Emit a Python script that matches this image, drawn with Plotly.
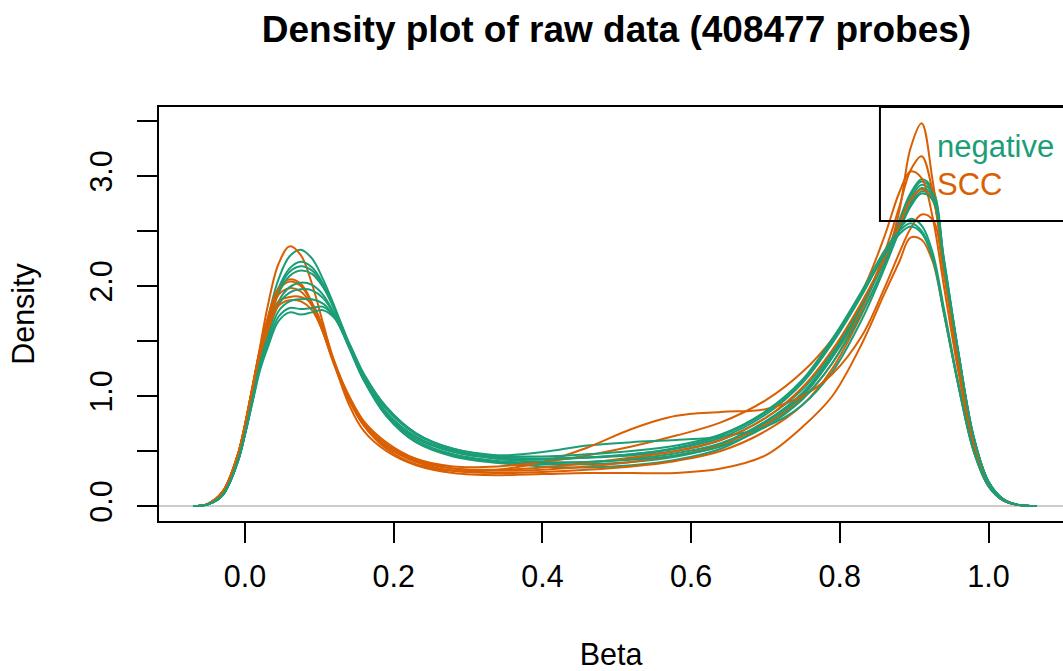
import plotly.graph_objects as go

beta_grid = [-0.07, -0.05, -0.03, -0.01, 0.0, 0.01, 0.02, 0.03, 0.045, 0.06, 0.075, 0.09, 0.105,
             0.12, 0.14, 0.16, 0.19, 0.23, 0.28, 0.34, 0.40, 0.46, 0.52, 0.58, 0.64, 0.70, 0.75,
             0.79, 0.83, 0.86, 0.88, 0.895, 0.91, 0.925, 0.94, 0.96, 0.98, 1.00, 1.02, 1.04, 1.065]

neg_1 = [0.0, 0.015, 0.10, 0.40, 0.66, 0.98, 1.33, 1.68, 2.06, 2.27, 2.33, 2.25, 2.06, 1.82, 1.47, 1.15, 0.82, 0.58, 0.45, 0.39, 0.36, 0.35, 0.37, 0.42, 0.52, 0.74, 1.00, 1.35, 1.80, 2.25, 2.60, 2.84, 2.97, 2.88, 2.25, 1.38, 0.63, 0.22, 0.06, 0.01, 0.0]
neg_2 = [0.0, 0.015, 0.10, 0.40, 0.66, 0.98, 1.32, 1.64, 1.98, 2.16, 2.22, 2.17, 2.02, 1.80, 1.46, 1.14, 0.82, 0.58, 0.46, 0.40, 0.38, 0.38, 0.40, 0.45, 0.55, 0.76, 1.02, 1.36, 1.82, 2.25, 2.58, 2.82, 2.95, 2.86, 2.24, 1.37, 0.62, 0.22, 0.06, 0.01, 0.0]
neg_3 = [0.0, 0.015, 0.10, 0.40, 0.66, 0.98, 1.32, 1.62, 1.96, 2.13, 2.18, 2.14, 2.00, 1.80, 1.48, 1.17, 0.85, 0.62, 0.49, 0.43, 0.42, 0.44, 0.47, 0.52, 0.62, 0.83, 1.12, 1.48, 1.92, 2.30, 2.52, 2.61, 2.55, 2.30, 1.80, 1.10, 0.52, 0.19, 0.05, 0.01, 0.0]
neg_4 = [0.0, 0.015, 0.10, 0.40, 0.66, 0.98, 1.31, 1.60, 1.93, 2.09, 2.14, 2.11, 1.99, 1.79, 1.46, 1.15, 0.83, 0.60, 0.47, 0.41, 0.39, 0.40, 0.43, 0.48, 0.57, 0.77, 1.03, 1.38, 1.83, 2.24, 2.56, 2.79, 2.92, 2.84, 2.22, 1.36, 0.62, 0.22, 0.06, 0.01, 0.0]
neg_5 = [0.0, 0.015, 0.10, 0.40, 0.66, 0.97, 1.30, 1.56, 1.86, 1.99, 2.03, 2.01, 1.92, 1.75, 1.44, 1.14, 0.84, 0.62, 0.50, 0.46, 0.49, 0.55, 0.58, 0.60, 0.63, 0.72, 0.92, 1.22, 1.70, 2.16, 2.50, 2.75, 2.89, 2.82, 2.22, 1.37, 0.63, 0.22, 0.06, 0.01, 0.0]
neg_6 = [0.0, 0.015, 0.10, 0.40, 0.66, 0.97, 1.29, 1.54, 1.83, 1.94, 1.97, 1.96, 1.89, 1.74, 1.44, 1.15, 0.85, 0.63, 0.50, 0.44, 0.43, 0.44, 0.46, 0.50, 0.60, 0.80, 1.06, 1.40, 1.84, 2.22, 2.52, 2.73, 2.86, 2.80, 2.20, 1.36, 0.62, 0.22, 0.06, 0.01, 0.0]
neg_7 = [0.0, 0.015, 0.10, 0.40, 0.66, 0.96, 1.27, 1.50, 1.77, 1.86, 1.88, 1.88, 1.84, 1.72, 1.45, 1.17, 0.88, 0.65, 0.52, 0.46, 0.45, 0.47, 0.50, 0.55, 0.65, 0.86, 1.15, 1.52, 1.96, 2.32, 2.50, 2.57, 2.50, 2.26, 1.76, 1.08, 0.50, 0.18, 0.05, 0.01, 0.0]
neg_8 = [0.0, 0.015, 0.10, 0.40, 0.65, 0.95, 1.25, 1.46, 1.72, 1.80, 1.79, 1.80, 1.81, 1.72, 1.47, 1.19, 0.90, 0.66, 0.52, 0.45, 0.43, 0.44, 0.47, 0.53, 0.64, 0.85, 1.14, 1.50, 1.93, 2.28, 2.47, 2.54, 2.48, 2.25, 1.76, 1.08, 0.50, 0.18, 0.05, 0.01, 0.0]
neg_9 = [0.0, 0.015, 0.10, 0.40, 0.65, 0.94, 1.23, 1.43, 1.68, 1.76, 1.74, 1.76, 1.78, 1.71, 1.48, 1.20, 0.90, 0.66, 0.51, 0.43, 0.40, 0.40, 0.42, 0.46, 0.54, 0.72, 0.97, 1.30, 1.76, 2.18, 2.50, 2.72, 2.84, 2.78, 2.20, 1.37, 0.63, 0.22, 0.06, 0.01, 0.0]

scc_1 = [0.0, 0.02, 0.13, 0.46, 0.74, 1.08, 1.44, 1.80, 2.20, 2.36, 2.28, 2.02, 1.66, 1.30, 0.92, 0.68, 0.50, 0.37, 0.30, 0.28, 0.29, 0.30, 0.30, 0.30, 0.34, 0.46, 0.72, 1.00, 1.48, 1.93, 2.22, 2.44, 2.42, 2.22, 1.75, 1.08, 0.50, 0.18, 0.05, 0.01, 0.0]
scc_2 = [0.0, 0.02, 0.13, 0.46, 0.74, 1.08, 1.42, 1.70, 1.98, 2.06, 2.02, 1.85, 1.58, 1.28, 0.96, 0.73, 0.54, 0.40, 0.32, 0.30, 0.31, 0.33, 0.36, 0.41, 0.50, 0.68, 0.92, 1.25, 1.75, 2.20, 2.68, 3.25, 3.48, 2.95, 2.20, 1.25, 0.55, 0.18, 0.05, 0.01, 0.0]
scc_3 = [0.0, 0.02, 0.13, 0.46, 0.74, 1.08, 1.42, 1.68, 1.96, 2.04, 2.00, 1.84, 1.58, 1.29, 0.98, 0.75, 0.56, 0.42, 0.34, 0.32, 0.33, 0.36, 0.40, 0.46, 0.56, 0.74, 0.98, 1.30, 1.80, 2.30, 2.72, 3.05, 3.18, 2.85, 2.15, 1.28, 0.57, 0.20, 0.05, 0.01, 0.0]
scc_4 = [0.0, 0.02, 0.13, 0.46, 0.74, 1.08, 1.41, 1.66, 1.92, 1.98, 1.95, 1.82, 1.58, 1.30, 1.00, 0.77, 0.58, 0.43, 0.36, 0.36, 0.40, 0.46, 0.54, 0.64, 0.76, 0.96, 1.22, 1.52, 1.95, 2.45, 2.85, 3.04, 2.98, 2.62, 2.00, 1.20, 0.54, 0.19, 0.05, 0.01, 0.0]
scc_5 = [0.0, 0.02, 0.13, 0.46, 0.74, 1.07, 1.38, 1.60, 1.86, 1.90, 1.90, 1.84, 1.62, 1.32, 0.98, 0.73, 0.52, 0.38, 0.32, 0.33, 0.40, 0.53, 0.70, 0.82, 0.855, 0.88, 1.00, 1.20, 1.55, 1.98, 2.30, 2.52, 2.65, 2.60, 2.10, 1.30, 0.60, 0.21, 0.06, 0.01, 0.0]
scc_6 = [0.0, 0.02, 0.13, 0.46, 0.74, 1.07, 1.37, 1.58, 1.82, 1.87, 1.86, 1.78, 1.58, 1.30, 0.97, 0.73, 0.54, 0.41, 0.34, 0.33, 0.35, 0.39, 0.44, 0.50, 0.60, 0.80, 1.08, 1.42, 1.86, 2.25, 2.55, 2.78, 2.88, 2.78, 2.18, 1.34, 0.61, 0.21, 0.06, 0.01, 0.0]

negative_curves = [neg_1, neg_2, neg_3, neg_4, neg_5, neg_6, neg_7, neg_8, neg_9]
scc_curves = [scc_1, scc_2, scc_3, scc_4, scc_5, scc_6]

x_ticks = [0.0, 0.2, 0.4, 0.6, 0.8, 1.0]
x_ticklabels = ["0.0", "0.2", "0.4", "0.6", "0.8", "1.0"]
y_ticks = [0.0, 0.5, 1.0, 1.5, 2.0, 2.5, 3.0, 3.5]
y_ticklabels = ["0.0", "", "1.0", "", "2.0", "", "3.0", ""]

GREEN = "#1B9E77"
ORANGE = "#D95F02"
FONT = "Liberation Sans, Arial, Helvetica, sans-serif"

fig = go.Figure()

# interleave the samples as they would be drawn
order = []
for i in range(max(len(negative_curves), len(scc_curves))):
    if i < len(negative_curves):
        order.append((negative_curves[i], GREEN))
    if i < len(scc_curves):
        order.append((scc_curves[i], ORANGE))

for ys, col in order:
    fig.add_trace(go.Scatter(x=beta_grid, y=ys, mode="lines",
                             line=dict(color=col, width=2, shape="spline", smoothing=1.0),
                             showlegend=False, hoverinfo="skip"))

# grey baseline at density 0
fig.add_shape(type="line", xref="paper", yref="y", x0=0, x1=1, y0=0, y1=0,
              line=dict(color="#CCCCCC", width=2), layer="below")

# legend box (top-right)
fig.add_shape(type="rect", xref="x", yref="y", x0=0.854, x1=1.3, y0=2.59, y1=3.627,
              line=dict(color="black", width=2), fillcolor="rgba(0,0,0,0)")
fig.add_annotation(x=0.9287, y=3.264, xref="x", yref="y", text="negative", showarrow=False,
                   xanchor="left", yanchor="middle", font=dict(color=GREEN, size=31, family=FONT))
fig.add_annotation(x=0.9287, y=2.918, xref="x", yref="y", text="SCC", showarrow=False,
                   xanchor="left", yanchor="middle", font=dict(color=ORANGE, size=31, family=FONT))

fig.update_layout(
    width=1063, height=671,
    margin=dict(l=159, r=0, t=107, b=150),
    paper_bgcolor="white", plot_bgcolor="white",
    font=dict(family=FONT, size=30.5, color="black"),
    title=dict(text="<b>Density plot of raw data (408477 probes)</b>",
               x=616.5 / 1063, xanchor="center", xref="container",
               y=1 - 29 / 671, yanchor="middle", yref="container",
               font=dict(size=37, family=FONT, color="black")),
    xaxis=dict(range=[-0.1157, 1.1002], tickvals=x_ticks, ticktext=x_ticklabels,
               showline=True, mirror=True, linecolor="black", linewidth=2,
               ticks="outside", ticklen=20, tickwidth=2, tickcolor="black",
               ticklabelstandoff=7,
               showgrid=False, zeroline=False,
               title=dict(text="Beta", standoff=56, font=dict(size=30.5))),
    yaxis=dict(range=[-0.1364, 3.627], tickvals=y_ticks, ticktext=y_ticklabels,
               showline=True, mirror=False, linecolor="black", linewidth=2,
               ticks="outside", ticklen=20, tickwidth=2, tickcolor="black",
               tickangle=-90, ticklabelstandoff=13, showgrid=False, zeroline=False,
               title=dict(text="Density", standoff=40, font=dict(size=30.5))),
)

fig.write_html("out.html")
